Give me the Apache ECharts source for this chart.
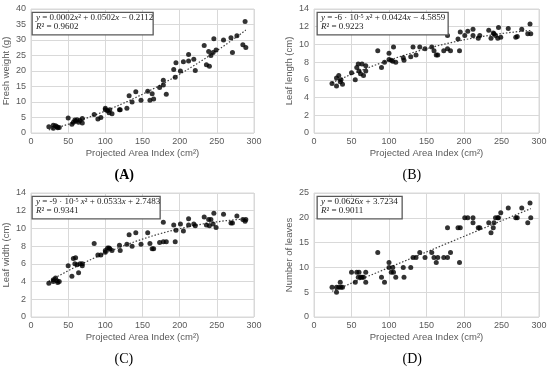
<!DOCTYPE html>
<html>
<head>
<meta charset="utf-8">
<script src="https://cdn.jsdelivr.net/npm/echarts@6/dist/echarts.min.js"></script>
<style>html,body{margin:0;padding:0;background:#fff;}#c{width:550px;height:370px;}</style>
</head>
<body>
<div id="c"></div>
<script>
// Shared projected area index values (cm²)
var areaIndex = [24,30,30,33,35,36,38, 50,55,57,59,60,62,64,66,69,69, 85,90,94,100,100,103,105,106,109,
  119,120,129,132,136,141,148,157,160,163,165,173, 178,178,182,192,194,195, 201,205,212,212,219,221,
  233,236,239,240,242,245,246,249, 259,269,271,277,285,288,289];
var freshWeight = [2,1.5,2.5,2.3,2,1.7,1.8, 4.8,2.8,3.5,4.2,3.8,4.3,3.5,4,3.2,4.7, 6,4.5,5,8,7.5,7.2,6.5,7.5,6.2,
  7.5,7.5,8,12,10,13.3,10.6,13.5,10.6,12.7,11,14.7, 17,15.5,12.5,20.5,18,22.7, 20,23,25.3,23.2,23.8,20.2,
  28.2,22,26.3,21.5,25,26,30.4,26.8, 30,30.7,26,31.4,28.5,36,27.6];
var leafLength = [5.6,6.2,5.3,6.5,5.8,6.0,5.5, 6.8,6.0,7.4,7.8,7.0,6.7,7.8,6.5,7.0,7.6, 9.3,7.4,8.0,9.0,8.3,8.2,8.1,9.7,8.0,
  8.5,8.2,8.6,9.7,8.8,9.7,9.5,9.7,9.3,8.8,8.8,9.3, 11.0,9.5,9.3,10.6,9.3,11.4, 11.0,11.5,11.7,11.0,10.7,11.0,
  11.6,10.7,11.3,11.2,11.0,10.7,11.9,10.8, 11.8,10.8,10.9,11.7,11.2,12.3,11.2];
var leafWidth = [3.8,4.2,4.0,4.4,4.1,3.9,4.0, 5.8,4.6,6.6,6.0,6.7,5.9,5.0,6.0,5.8,6.0, 8.3,7.0,7.0,7.3,7.5,7.8,7.8,7.7,7.5,
  8.1,7.5,8.2,9.3,8.0,9.5,8.2,9.5,8.3,7.7,7.7,8.4, 10.7,8.5,8.5,10.4,8.5,9.8, 10.5,9.7,11.1,10.4,10.5,10.3,
  11.3,10.4,11.0,10.3,11.0,10.5,11.7,10.1, 11.6,10.6,10.6,11.4,11.0,10.8,11.0];
var leafCount = [6,6,5,6,7,6,6, 9,7,9,8,9,8,8,8,7,9, 13,8,7,11,10,9,10,9,8,
  10,8,10,12,12,13,12,13,12,11,12,12, 18,12,13,18,11,18, 20,20,20,19,18,18,
  19,17,18,19,20,20,20,21, 22,20,20,22,19,23,20];

var xTicks = {min:0, max:300, interval:50};
var panels = [
  {key:'A', yName:'Fresh weight (g)', y:freshWeight, ymax:40, yint:5, deg:2,
   eq:'{i|y}{n| = 0.0002}{i|x}{n|² + 0.0502}{i|x}{n| − 0.2112}', r2:'0.9602'},
  {key:'B', yName:'Leaf length (cm)', y:leafLength, ymax:14, yint:2, deg:2,
   eq:'{i|y}{n| = -6 · 10}{s|-5}{n| }{i|x}{n|² + 0.0424}{i|x}{n| − 4.5859}', r2:'0.9223'},
  {key:'C', yName:'Leaf width (cm)', y:leafWidth, ymax:14, yint:2, deg:2,
   eq:'{i|y}{n| = -9 · 10}{s|-5}{n| }{i|x}{n|² + 0.0533}{i|x}{n| + 2.7483}', r2:'0.9341'},
  {key:'D', yName:'Number of leaves', y:leafCount, ymax:25, yint:5, deg:1,
   eq:'{i|y}{n| = 0.0626}{i|x}{n| + 3.7234}', r2:'0.9011'}
];

// least-squares polynomial fit (Excel trendline equivalent)
function polyfit(xs, ys, deg){
  var n = deg+1, A = [], b = [];
  for (var i=0;i<n;i++){A.push([]);for(var j=0;j<n;j++){var s=0;for(var k=0;k<xs.length;k++)s+=Math.pow(xs[k],i+j);A[i].push(s);}
    var t=0;for(var k=0;k<xs.length;k++)t+=ys[k]*Math.pow(xs[k],i);b.push(t);}
  for (var i=0;i<n;i++){var p=i;for(var r=i+1;r<n;r++)if(Math.abs(A[r][i])>Math.abs(A[p][i]))p=r;
    var tmp=A[i];A[i]=A[p];A[p]=tmp;var tb=b[i];b[i]=b[p];b[p]=tb;
    for(var r=i+1;r<n;r++){var f=A[r][i]/A[i][i];for(var c=i;c<n;c++)A[r][c]-=f*A[i][c];b[r]-=f*b[i];}}
  var x=new Array(n);
  for (var i=n-1;i>=0;i--){var s=b[i];for(var c=i+1;c<n;c++)s-=A[i][c]*x[c];x[i]=s/A[i][i];}
  return x;
}

var pos = {A:{l:29,t:9}, B:{l:314,t:9}, C:{l:29,t:193}, D:{l:314,t:193}};
var W = 225, H = 124;
var grids=[], xAxes=[], yAxes=[], series=[], graphics=[];
var labelFont = 'Liberation Sans, Arial, sans-serif';
var serif = 'Liberation Serif, Times New Roman, serif';
var FS = 9;
var eqRich = {
  i:{fontFamily:serif, fontStyle:'italic', fontSize:FS, fill:'#222'},
  n:{fontFamily:serif, fontSize:FS, fill:'#222'},
  s:{fontFamily:serif, fontSize:6, fill:'#222', verticalAlign:'top', lineHeight:6}
};

panels.forEach(function(p, i){
  var g = pos[p.key];
  grids.push({left:g.l, top:g.t, width:W, height:H, show:true, borderColor:'#d9d9d9', borderWidth:1});
  xAxes.push({type:'value', gridIndex:i, min:xTicks.min, max:xTicks.max, interval:xTicks.interval,
    name:'Projected Area Index (cm²)', nameLocation:'middle', nameGap:15,
    nameTextStyle:{fontFamily:labelFont, fontSize:9.5, color:'#595959'},
    axisLine:{show:false}, axisTick:{show:false},
    axisLabel:{fontFamily:labelFont, fontSize:9, color:'#595959', margin:4},
    splitLine:{show:true, lineStyle:{color:'#d9d9d9', width:1}}});
  yAxes.push({type:'value', gridIndex:i, min:0, max:p.ymax, interval:p.yint,
    name:p.yName, nameLocation:'middle', nameGap:20,
    nameTextStyle:{fontFamily:labelFont, fontSize:9.5, color:'#595959'},
    axisLine:{show:false}, axisTick:{show:false},
    axisLabel:{fontFamily:labelFont, fontSize:9, color:'#595959', margin:5},
    splitLine:{show:true, lineStyle:{color:'#d9d9d9', width:1}}});
  var pts = areaIndex.map(function(x,k){return [x, p.y[k]];});
  series.push({type:'scatter', xAxisIndex:i, yAxisIndex:i, data:pts, symbolSize:5,
    itemStyle:{color:'#000'}, silent:true, z:3});
  var coef = polyfit(areaIndex, p.y, p.deg);
  var xmin = Math.min.apply(null, areaIndex), xmax = Math.max.apply(null, areaIndex);
  var line = [];
  for (var s=0;s<=40;s++){var xx = xmin + (xmax-xmin)*s/40; var yy=0;
    for (var c=0;c<coef.length;c++) yy += coef[c]*Math.pow(xx,c); line.push([xx,yy]);}
  series.push({type:'line', xAxisIndex:i, yAxisIndex:i, data:line, showSymbol:false, smooth:false,
    lineStyle:{color:'#404040', width:1.2, type:[1.5,1.8]}, silent:true, z:2});

  // equation box
  var bw = (p.key==='A')?121:(p.key==='B')?131:(p.key==='C')?128:85;
  graphics.push({type:'rect', left:g.l+2.5, top:g.t+2.7, shape:{width:bw, height:22.6},
    style:{fill:'#fff', stroke:'#595959', lineWidth:1.3}, z:10});
  graphics.push({type:'text', left:g.l+7, top:g.t+4.5, z:11,
    style:{text:p.eq, rich:eqRich, fontFamily:serif, fontSize:FS, fill:'#222'}});
  graphics.push({type:'text', left:g.l+7, top:g.t+13.5, z:11,
    style:{text:'{i|R}{n|² = ' + p.r2 + '}', rich:eqRich, fontFamily:serif, fontSize:FS, fill:'#222'}});
  // panel label
  graphics.push({type:'text', left:g.l+W/2-24 + (p.key==='A'||p.key==='C'?-3:0), top:g.t+159, z:11,
    style:{text:'(' + p.key + ')', fontFamily:serif, fontWeight:(p.key==='A'?'bold':'normal'), fontSize:14, fill:'#000'}});
});

var chart = echarts.init(document.getElementById('c'), null, {renderer:'canvas'});
chart.setOption({animation:false, grid:grids, xAxis:xAxes, yAxis:yAxes, series:series, graphic:graphics});
</script>
</body>
</html>
